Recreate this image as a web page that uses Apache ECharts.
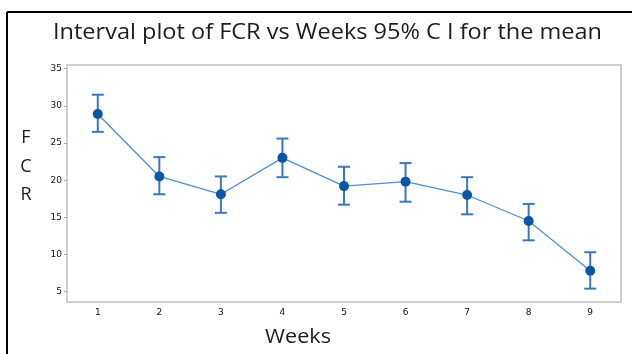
<!DOCTYPE html>
<html>
<head>
<meta charset="utf-8">
<script src="https://cdn.jsdelivr.net/npm/echarts@6/dist/echarts.min.js"></script>
<style>
  html, body { margin: 0; padding: 0; background: #fff; }
  #chart { width: 632px; height: 354px; }
</style>
</head>
<body>
<div id="chart"></div>
<script>
// Weekly FCR means with 95% confidence intervals
const weeks = ['1', '2', '3', '4', '5', '6', '7', '8', '9'];
const fcrMean = [28.9, 20.5, 18.1, 23.0, 19.2, 19.8, 18.0, 14.5, 7.8];
const ciLower = [26.5, 18.1, 15.6, 20.4, 16.7, 17.1, 15.4, 11.9, 5.4];
const ciUpper = [31.5, 23.1, 20.5, 25.6, 21.8, 22.3, 20.4, 16.8, 10.3];
const yTicks = [5, 10, 15, 20, 25, 30, 35];

const titleText = 'Interval plot of FCR vs Weeks 95% C I for the mean';
const xName = 'Weeks';
const yNameLetters = ['F', 'C', 'R'];

const chart = echarts.init(document.getElementById('chart'));

const intervals = weeks.map((w, i) => [i, ciLower[i], ciUpper[i]]);

const textColor = '#1c1c1c';

// y-axis name drawn one letter per line
const yNameGraphics = yNameLetters.map((ch, i) => ({
  type: 'text', x: 26, y: 138 + i * 28.5,
  style: { text: ch, font: '18px "Open Sans"', fill: textColor, textAlign: 'center', textVerticalAlign: 'middle' }
}));

chart.setOption({
  animation: false,
  backgroundColor: '#ffffff',
  graphic: [
    // outer frame (top and left edges)
    { type: 'line', shape: { x1: 7, y1: 12, x2: 632, y2: 12 }, style: { stroke: '#000', lineWidth: 2 } },
    { type: 'line', shape: { x1: 7, y1: 12, x2: 7, y2: 354 }, style: { stroke: '#000', lineWidth: 2 } },
    // title
    {
      type: 'text', x: 327.5, y: 33, scaleX: 1.12,
      style: { text: titleText, font: '21px "Open Sans"', fill: textColor, textAlign: 'center', textVerticalAlign: 'middle' }
    },
    // x-axis name
    {
      type: 'text', x: 298, y: 337, scaleX: 1.08,
      style: { text: xName, font: '20px "Open Sans"', fill: textColor, textAlign: 'center', textVerticalAlign: 'middle' }
    }
  ].concat(yNameGraphics),
  grid: {
    left: 67, top: 65, right: 11, bottom: 52,
    show: true, borderColor: '#cfcfcf', borderWidth: 2, backgroundColor: '#fff'
  },
  xAxis: {
    type: 'category',
    data: weeks,
    axisLine: { show: false },
    axisTick: { show: false },
    axisLabel: { fontFamily: 'DejaVu Sans', fontSize: 9, color: '#111', margin: 6 }
  },
  yAxis: {
    type: 'value',
    min: 3.6,
    max: 35.5,
    splitLine: { show: false },
    axisLine: { show: false },
    axisTick: { show: true, length: 3, lineStyle: { color: '#aaa' }, customValues: yTicks },
    axisLabel: { fontFamily: 'DejaVu Sans', fontSize: 9, color: '#111', margin: 5, customValues: yTicks }
  },
  series: [
    {
      type: 'custom',
      data: intervals,
      encode: { x: 0, y: [1, 2] },
      z: 3,
      renderItem: function (params, api) {
        const x = api.value(0);
        const lo = api.coord([x, api.value(1)]);
        const hi = api.coord([x, api.value(2)]);
        const half = 6;
        const style = { stroke: '#3a78bd', lineWidth: 2, fill: null };
        return {
          type: 'group',
          children: [
            { type: 'line', shape: { x1: lo[0], y1: lo[1], x2: hi[0], y2: hi[1] }, style: style },
            { type: 'line', shape: { x1: hi[0] - half, y1: hi[1], x2: hi[0] + half, y2: hi[1] }, style: style },
            { type: 'line', shape: { x1: lo[0] - half, y1: lo[1], x2: lo[0] + half, y2: lo[1] }, style: style }
          ]
        };
      }
    },
    {
      type: 'line',
      data: fcrMean,
      z: 4,
      symbol: 'circle',
      symbolSize: 10,
      lineStyle: { color: '#4d8fd6', width: 1.3 },
      itemStyle: { color: '#0a56a6' }
    }
  ]
});
</script>
</body>
</html>
